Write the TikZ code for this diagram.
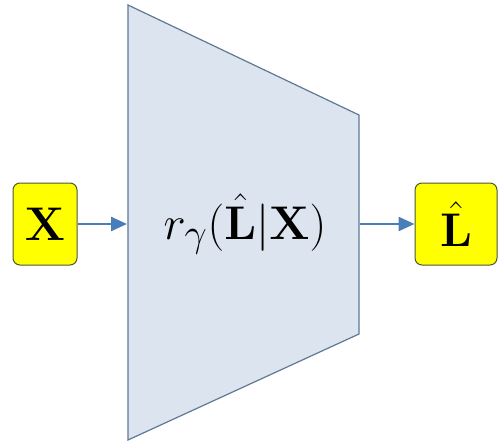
\documentclass[tikz,border=0pt]{standalone}
\usepackage{amsmath}
\usepackage{graphicx}
\usetikzlibrary{arrows.meta}
\definecolor{boxyellow}{HTML}{FFFF00}
\definecolor{boxedge}{HTML}{4A5A3A}
\definecolor{trapfill}{HTML}{DCE4EF}
\definecolor{trapedge}{HTML}{5F7896}
\definecolor{arrowblue}{HTML}{4A7EBB}
\newcommand{\bigmath}[1]{\scalebox{1.9}{\Huge$#1$}}
\tikzset{
  iobox/.style={draw=boxedge, line width=1pt, fill=boxyellow, rounded corners=7pt, inner sep=0pt},
  flow/.style={draw=arrowblue, line width=2.5pt, -{Triangle[length=16pt,width=14pt]}},
}
\begin{document}
\begin{tikzpicture}[x=1pt,y=-1pt]
\useasboundingbox (0,0) rectangle (500,444);
\draw[fill=trapfill, draw=trapedge, line width=1.2pt] (128,5) -- (359,115) -- (359,334) -- (128,440) -- cycle;
\node[inner sep=0pt] (net) at (245,224) {\bigmath{r_\gamma(\hat{\mathbf{L}}|\mathbf{X})}};
\node[iobox, minimum width=64pt, minimum height=82pt] (x) at (45,224) {\bigmath{\mathbf{X}}};
\node[iobox, minimum width=82pt, minimum height=82pt] (l) at (456,224) {\bigmath{\hat{\mathbf{L}}}};
\coordinate (netin) at (127,224);
\coordinate (netout) at (360,224);
\draw[flow] (x.east) -- (netin);
\draw[flow] (netout) -- (l.west);
\end{tikzpicture}
\end{document}
